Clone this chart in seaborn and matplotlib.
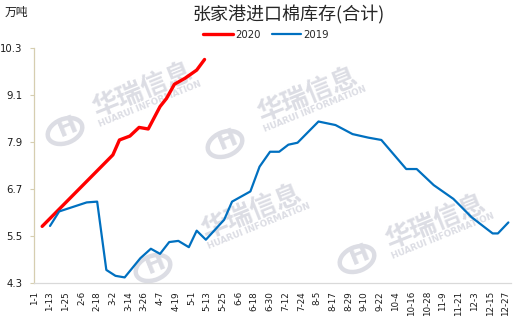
import matplotlib
matplotlib.use("Agg")
import matplotlib.pyplot as plt
from matplotlib.patches import Ellipse
from matplotlib.transforms import IdentityTransform
from matplotlib.lines import Line2D
import seaborn as sns
import pandas as pd
import numpy as np

# ---- data (month-day, 万吨) ----
dates_2020 = ["1-7", "3-2", "3-7", "3-15", "3-22", "3-29", "4-7", "4-12",
              "4-18", "4-26", "5-5", "5-11"]
stock_2020 = [5.75, 7.57, 7.95, 8.05, 8.27, 8.23, 8.80, 9.01,
              9.37, 9.52, 9.73, 10.00]

dates_2019 = ["1-13", "1-20", "2-10", "2-18", "2-25", "3-4", "3-11", "3-23",
              "3-31", "4-7", "4-14", "4-21", "4-29", "5-5", "5-12", "5-26",
              "6-1", "6-15", "6-22", "6-30", "7-7", "7-14", "7-21", "8-6",
              "8-19", "9-1", "9-13", "9-23", "10-12", "10-20", "11-2", "11-17",
              "12-1", "12-17", "12-21", "12-29"]
stock_2019 = [5.76, 6.13, 6.36, 6.38, 4.64, 4.49, 4.45, 4.94,
              5.18, 5.05, 5.35, 5.38, 5.22, 5.64, 5.41, 5.92,
              6.38, 6.64, 7.27, 7.65, 7.65, 7.83, 7.88, 8.42,
              8.33, 8.10, 8.01, 7.95, 7.21, 7.21, 6.80, 6.45,
              5.98, 5.57, 5.57, 5.85]

y_ticks = [4.3, 5.5, 6.7, 7.9, 9.1, 10.3]
series_names = ["2020", "2019"]
series_colors = ["#FF0000", "#0070C0"]

BASE = pd.Timestamp("2019-01-01")


def day_of_year(md):
    m, d = md.split("-")
    return (pd.Timestamp(year=2019, month=int(m), day=int(d)) - BASE).days


df = pd.concat([
    pd.DataFrame({"day": [day_of_year(s) for s in dates_2020],
                  "value": stock_2020, "year": "2020"}),
    pd.DataFrame({"day": [day_of_year(s) for s in dates_2019],
                  "value": stock_2019, "year": "2019"}),
], ignore_index=True)

# ---- style ----
sns.set_theme(style="white")
plt.rcParams["font.family"] = ["Noto Sans CJK SC", "DejaVu Sans"]

W, H = 522, 323
fig = plt.figure(figsize=(W / 100, H / 100), dpi=100)
ax = fig.add_axes([34.3 / W, 1 - 283.3 / H, (511 - 34.3) / W, (283.3 - 47.7) / H])


def fx(px):
    return px / W


def fy(py):
    return 1 - py / H


# ---- watermark ----
wm_color = "#dcdde4"
wm_marks = [  # (text centre x, y, logo x, y) in pixels from top-left
    (143, 90, 65, 125),
    (308, 95, 225, 138),
    (252, 212, 153, 262),
    (436, 222, 357, 253),
]
ang = 22
for tx, ty, lx, ly in wm_marks:
    ax.text(fx(tx), fy(ty), "华瑞信息", transform=fig.transFigure,
            fontsize=19, fontweight="bold", color=wm_color, rotation=ang,
            ha="center", va="center", rotation_mode="anchor", zorder=0.5,
            family=["Noto Sans CJK SC"])
    ax.text(fx(tx + 7), fy(ty + 14), "HUARUI INFORMATION",
            transform=fig.transFigure, fontsize=6.3, fontweight="bold",
            color=wm_color, rotation=ang, ha="center", va="center",
            rotation_mode="anchor", zorder=0.5, family=["DejaVu Sans"])
    ax.add_patch(Ellipse((lx, H - ly - 6), 36, 24, angle=ang, fill=False,
                         lw=3.2, ec=wm_color, transform=IdentityTransform(),
                         zorder=0.5, clip_on=False))
    ax.text(fx(lx + 2), fy(ly + 2), "H", transform=fig.transFigure,
            fontsize=17, fontweight="bold", color=wm_color, rotation=ang,
            ha="center", va="center", rotation_mode="anchor", zorder=0.5,
            family=["DejaVu Sans"])

# ---- lines ----
palette = dict(zip(series_names, series_colors))
widths = {"2020": 2.4, "2019": 1.6}
for name in series_names:
    sns.lineplot(data=df[df["year"] == name], x="day", y="value",
                 color=palette[name], lw=widths[name], sort=False,
                 estimator=None, ax=ax, zorder=3)

# ---- axes ----
ax.set_xlim(0, 364)
ax.set_ylim(4.3, 10.3)
ax.set_yticks(y_ticks)
ax.set_yticklabels([f"{v:.1f}" for v in y_ticks], fontsize=7.3,
                   family=["DejaVu Sans"], color="#1a1a1a")
xt = list(range(0, 361, 12))
ax.set_xticks(xt)
xt_labels = [f"{(BASE + pd.Timedelta(days=d)).month}-{(BASE + pd.Timedelta(days=d)).day}"
             for d in xt]
ax.set_xticklabels(xt_labels, rotation=90, fontsize=6.3,
                   family=["DejaVu Sans"], color="#1a1a1a", va="top")
ax.tick_params(axis="x", length=0, pad=5.5)
ax.tick_params(axis="y", length=2.8, width=0.8, color="#d6ceb0", pad=6, left=True)
ax.set_xlabel("")
ax.set_ylabel("")
for s in ["top", "right"]:
    ax.spines[s].set_visible(False)
ax.spines["left"].set_color("#d6ceb0")
ax.spines["left"].set_linewidth(0.9)
ax.spines["bottom"].set_color("#d9d9d9")
ax.spines["bottom"].set_linewidth(0.9)
ax.grid(False)

# ---- titles & legend ----
fig.text(fx(289), fy(15), "张家港进口棉库存(合计)", fontsize=13, color="#262626",
         ha="center", va="center")
fig.text(fx(5), fy(12.5), "万吨", fontsize=8.5, color="#1a1a1a",
         ha="left", va="center")

handles = [Line2D([0], [0], color=palette[n], lw=widths[n]) for n in series_names]
fig.legend(handles, series_names, loc="center", bbox_to_anchor=(fx(266), fy(35)),
           ncol=2, frameon=False, fontsize=7.3, handlelength=2.9,
           handletextpad=0.2, columnspacing=1.1, borderpad=0,
           prop={"family": ["DejaVu Sans"], "size": 7.3})

fig.savefig("out.png", dpi=100)
